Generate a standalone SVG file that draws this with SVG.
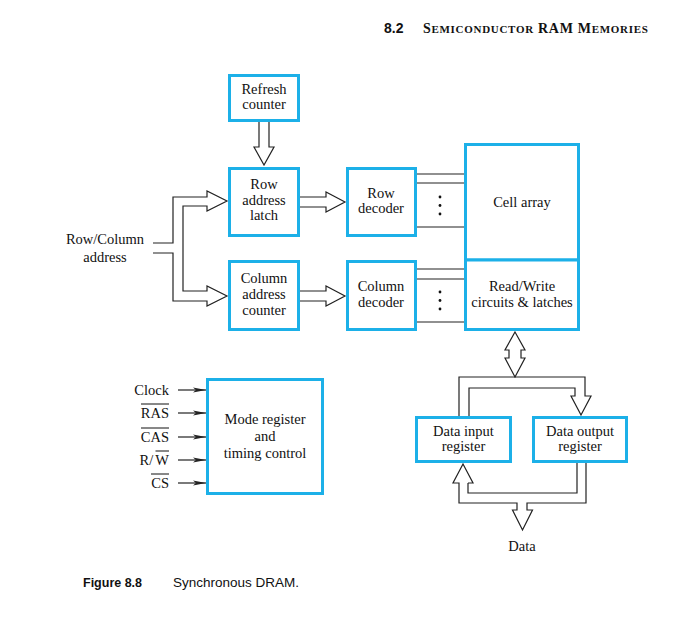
<svg xmlns="http://www.w3.org/2000/svg" width="699" height="619" viewBox="0 0 699 619">
<defs>
<style>
.box{fill:#fff;stroke:#1CB0E8;stroke-width:3}
.t{font-family:"Liberation Serif","Times New Roman",serif;font-size:14.5px;fill:#111;text-anchor:middle}
.s{font-family:"Liberation Serif","Times New Roman",serif;font-size:14.5px;fill:#111;text-anchor:end}
.w{fill:#fff;stroke:#222;stroke-width:1.2}
.l{fill:none;stroke:#222;stroke-width:1.2}
.ob{stroke:#111;stroke-width:1}
</style>
<marker id="ah" markerWidth="14" markerHeight="6" refX="13" refY="3" orient="auto" markerUnits="userSpaceOnUse">
<path d="M0,0.6 L13,3 L0,5.4 L3,3 Z" fill="#222"/>
</marker>
</defs>
<rect width="699" height="619" fill="#fff"/>

<g id="header">
<text x="384" y="33" font-family="'Liberation Sans',Arial,sans-serif" font-weight="bold" font-size="14" fill="#111">8.2</text>
<text x="423" y="33" font-family="'Liberation Serif','Times New Roman',serif" font-weight="bold" font-size="14" letter-spacing="0.7" fill="#111">S<tspan font-size="11">EMICONDUCTOR</tspan> RAM M<tspan font-size="11">EMORIES</tspan></text>
</g>

<g id="connectors">
<polyline class="w" points="259,122 259,147 254,147 264,165 274,147 269,147 269,122"/>
<polyline class="l" points="153,243 173,243 173,197 207,197 207,191 227,201 207,211 207,206 183,206 183,291 207,291 207,286 227,296 207,306 207,301 173,301 173,253 153,253"/>
<polyline class="w" points="300,197 326,197 326,192 345,202 326,212 326,207 300,207"/>
<polyline class="w" points="300,291 326,291 326,286 345,296 326,306 326,301 300,301"/>
<g class="l">
<line x1="417" y1="174" x2="464" y2="174"/>
<line x1="417" y1="183" x2="464" y2="183"/>
<line x1="417" y1="227" x2="464" y2="227"/>
<line x1="417" y1="269" x2="464" y2="269"/>
<line x1="417" y1="279" x2="464" y2="279"/>
<line x1="417" y1="322" x2="464" y2="322"/>
</g>
<g fill="#111">
<circle cx="440" cy="197" r="1.4"/>
<circle cx="440" cy="205.5" r="1.4"/>
<circle cx="440" cy="214" r="1.4"/>
<circle cx="440" cy="292" r="1.4"/>
<circle cx="440" cy="300.5" r="1.4"/>
<circle cx="440" cy="309" r="1.4"/>
</g>
<polygon class="w" points="515,332 525,350 521,350 521,358 525,358 515,377 505,358 509,358 509,350 505,350"/>
<polyline class="l" points="459,416 459,377 585,377 585,396 591,396 581,415 571,396 575,396 575,388 469,388 469,416"/>
<polyline class="l" points="468,483 473,483 463,464 453,483 459,483 459,503 517,503 517,510 512.5,510 522.5,530 532.5,510 527,510 527,503 586,503 586,463"/>
<polyline class="l" points="468,483 468,493 577,493 577,463"/>
<line class="l" x1="178" y1="390" x2="206" y2="390" marker-end="url(#ah)"/>
<line class="l" x1="178" y1="413" x2="206" y2="413" marker-end="url(#ah)"/>
<line class="l" x1="178" y1="437" x2="206" y2="437" marker-end="url(#ah)"/>
<line class="l" x1="178" y1="460" x2="206" y2="460" marker-end="url(#ah)"/>
<line class="l" x1="178" y1="483" x2="206" y2="483" marker-end="url(#ah)"/>
</g>

<g id="refresh-counter">
<rect class="box" x="229.5" y="75.5" width="69" height="45"/>
<text class="t" x="264" y="94">Refresh</text>
<text class="t" x="264" y="109">counter</text>
</g>

<g id="row-address-latch">
<rect class="box" x="229.5" y="168.5" width="69" height="67"/>
<text class="t" x="264" y="189">Row</text>
<text class="t" x="264" y="205">address</text>
<text class="t" x="264" y="220">latch</text>
</g>

<g id="column-address-counter">
<rect class="box" x="229.5" y="261.5" width="69" height="68"/>
<text class="t" x="264" y="283">Column</text>
<text class="t" x="264" y="299">address</text>
<text class="t" x="264" y="315">counter</text>
</g>

<g id="row-decoder">
<rect class="box" x="347.5" y="168.5" width="68" height="67"/>
<text class="t" x="381" y="198">Row</text>
<text class="t" x="381" y="213">decoder</text>
</g>

<g id="column-decoder">
<rect class="box" x="347.5" y="261.5" width="68" height="68"/>
<text class="t" x="381" y="291">Column</text>
<text class="t" x="381" y="307">decoder</text>
</g>

<g id="cell-array">
<rect class="box" x="465.5" y="144.5" width="113" height="115.5"/>
<text class="t" x="522" y="207">Cell array</text>
</g>

<g id="read-write">
<rect class="box" x="465.5" y="260" width="113" height="69.5"/>
<text class="t" x="522" y="291">Read/Write</text>
<text class="t" x="522" y="307">circuits &amp; latches</text>
</g>

<g id="data-input-register">
<rect class="box" x="416.5" y="417.5" width="94" height="44"/>
<text class="t" x="463.5" y="436">Data input</text>
<text class="t" x="463.5" y="451">register</text>
</g>

<g id="data-output-register">
<rect class="box" x="533.5" y="417.5" width="93" height="44"/>
<text class="t" x="580" y="436">Data output</text>
<text class="t" x="580" y="451">register</text>
</g>

<g id="mode-register">
<rect class="box" x="207.5" y="379.5" width="115" height="114"/>
<text class="t" x="265" y="424">Mode register</text>
<text class="t" x="265" y="441">and</text>
<text class="t" x="265" y="458">timing control</text>
</g>

<g id="labels">
<text class="t" x="105" y="244">Row/Column</text>
<text class="t" x="105" y="262">address</text>
<text class="t" x="522" y="551">Data</text>
<text class="s" x="169" y="395">Clock</text>
<text class="s" x="169" y="418">RAS</text>
<line class="ob" x1="141" y1="404" x2="169" y2="404"/>
<text class="s" x="169" y="442">CAS</text>
<line class="ob" x1="141" y1="428" x2="169" y2="428"/>
<text class="s" x="169" y="465">R/<tspan dx="2">W</tspan></text>
<line class="ob" x1="155.5" y1="451" x2="169" y2="451"/>
<text class="s" x="169" y="488">CS</text>
<line class="ob" x1="151" y1="474" x2="169" y2="474"/>
</g>

<g id="caption">
<text x="83" y="587" font-family="'Liberation Sans',Arial,sans-serif" font-weight="bold" font-size="12.5" fill="#111">Figure 8.8</text>
<text x="173" y="587" font-family="'Liberation Sans',Arial,sans-serif" font-size="13.5" fill="#111">Synchronous DRAM.</text>
</g>
</svg>
